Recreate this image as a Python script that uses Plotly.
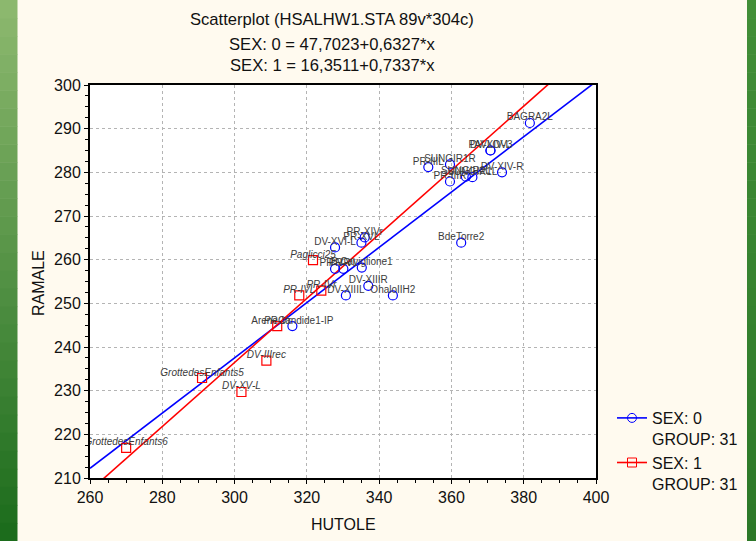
import plotly.graph_objects as go

# ---------------- data ----------------
sex0_labels = ["BAGRA2L", "PAVLOV3", "DV-XIV-L", "DV-XIV-R", "SUNGIR1R", "PR-IIIL",
               "PR-IIIR", "SUNGIR2L", "SUNGIR1L", "BdeTorre2", "DV-XVI-L", "PR-XVL",
               "PR-XIVr", "PR-VR", "PR-VL", "B.Caviglione1", "DV-XIIIR", "DV-XIIIL",
               "OhaloIIH2", "AreneCandide1-IP"]
sex0_hutole = [381.7, 370.8, 370.8, 374.0, 359.6, 353.6,
               359.6, 364.0, 365.8, 362.7, 327.8, 335.1,
               336.0, 327.8, 330.1, 335.2, 337.0, 330.8,
               343.8, 316.0]
sex0_ramale = [291.3, 285.0, 285.0, 280.0, 281.8, 281.2,
               277.9, 279.0, 278.9, 263.9, 262.8, 263.9,
               265.1, 257.9, 257.9, 258.2, 254.0, 251.8,
               251.8, 244.8]

sex1_labels = ["Paglicci25", "PR-IVr", "PR-IVL", "PR-Vr", "DV-IIIrec",
               "GrottedesEnfants5", "DV-XV-L", "GrottedesEnfants6"]
sex1_hutole = [321.7, 324.0, 317.9, 311.8, 308.8, 291.0, 301.9, 270.0]
sex1_ramale = [259.9, 252.9, 251.8, 244.8, 236.9, 232.9, 229.7, 216.9]

# regression coefficients (intercept, slope) from the title
fit0 = (47.7023, 0.6327)
fit1 = (16.3511, 0.7337)
fit_x = [260, 400]

x_ticks = [260, 280, 300, 320, 340, 360, 380, 400]
y_ticks = [210, 220, 230, 240, 250, 260, 270, 280, 290, 300]

title_lines = ["Scatterplot (HSALHW1.STA 89v*304c)",
               "SEX: 0 = 47,7023+0,6327*x",
               "SEX: 1 = 16,3511+0,7337*x"]

# ---------------- layout geometry ----------------
W, H = 756, 541
L, R, T, B = 90, 596, 85, 478   # plot area in pixels


def px_x(p):
    return (p - L) / (R - L)


def px_y(p):
    return (B - p) / (B - T)


BLUE = "#0000ff"
RED = "#ff0000"
FONT = "Liberation Sans, Arial, sans-serif"
LABEL_FONT = dict(family=FONT, size=10, color="#3c3c3c")

fig = go.Figure()

# regression lines
fig.add_trace(go.Scatter(x=fit_x, y=[fit0[0] + fit0[1] * v for v in fit_x],
                         mode="lines", line=dict(color=BLUE, width=1.6),
                         showlegend=False, hoverinfo="skip"))
fig.add_trace(go.Scatter(x=fit_x, y=[fit1[0] + fit1[1] * v for v in fit_x],
                         mode="lines", line=dict(color=RED, width=1.6),
                         showlegend=False, hoverinfo="skip"))

# point markers
fig.add_trace(go.Scatter(x=sex0_hutole, y=sex0_ramale, mode="markers", text=sex0_labels,
                         marker=dict(symbol="circle-open", size=9, color=BLUE,
                                     line=dict(width=1.2, color=BLUE)),
                         showlegend=False))
fig.add_trace(go.Scatter(x=sex1_hutole, y=sex1_ramale, mode="markers", text=sex1_labels,
                         marker=dict(symbol="square-open", size=9, color=RED,
                                     line=dict(width=1.2, color=RED)),
                         showlegend=False))

# point labels (text-only traces, small marker size to keep labels close)
fig.add_trace(go.Scatter(x=sex0_hutole, y=sex0_ramale, mode="text",
                         text=sex0_labels, textposition="top center",
                         textfont=LABEL_FONT, marker=dict(size=2),
                         showlegend=False, hoverinfo="skip"))
fig.add_trace(go.Scatter(x=sex1_hutole, y=sex1_ramale, mode="text",
                         text=["<i>%s</i>" % s for s in sex1_labels],
                         textposition="top center",
                         textfont=LABEL_FONT, marker=dict(size=2),
                         showlegend=False, hoverinfo="skip"))

# legend-only entries
fig.add_trace(go.Scatter(x=[None], y=[None], mode="lines+markers",
                         name="SEX: 0<br>GROUP: 31",
                         line=dict(color=BLUE, width=1.6),
                         marker=dict(symbol="circle-open", size=9, color=BLUE)))
fig.add_trace(go.Scatter(x=[None], y=[None], mode="lines+markers",
                         name="SEX: 1<br>GROUP: 31",
                         line=dict(color=RED, width=1.6),
                         marker=dict(symbol="square-open", size=9, color=RED)))

# background bands (green sides)
shapes = []
left_top = (140, 184, 110)
left_bot = (28, 108, 28)
right_top = (66, 142, 56)
right_bot = (44, 120, 40)
n = 30
for i in range(n):
    t = i / (n - 1)
    y0 = H * i / n
    y1 = H * (i + 1) / n + 0.5
    cl = tuple(int(round(a + (b - a) * t)) for a, b in zip(left_top, left_bot))
    cr = tuple(int(round(a + (b - a) * t)) for a, b in zip(right_top, right_bot))
    shapes.append(dict(type="rect", xref="paper", yref="paper", layer="below",
                       x0=px_x(0), x1=px_x(17.5), y0=px_y(y1), y1=px_y(y0),
                       fillcolor="rgb(%d,%d,%d)" % cl, line=dict(width=0)))
    shapes.append(dict(type="rect", xref="paper", yref="paper", layer="below",
                       x0=px_x(747), x1=px_x(W + 1), y0=px_y(y1), y1=px_y(y0),
                       fillcolor="rgb(%d,%d,%d)" % cr, line=dict(width=0)))

annotations = []
for txt, yp in zip(title_lines, [20, 44, 66]):
    annotations.append(dict(text=txt, x=px_x(332), y=px_y(yp), xref="paper", yref="paper",
                            xanchor="center", yanchor="middle", showarrow=False,
                            font=dict(family=FONT, size=16.6, color="#111111")))
annotations.append(dict(text="HUTOLE", x=px_x(343), y=px_y(524), xref="paper", yref="paper",
                        xanchor="center", yanchor="middle", showarrow=False,
                        font=dict(family=FONT, size=16, color="#111111")))
annotations.append(dict(text="RAMALE", x=px_x(38), y=px_y(283), xref="paper", yref="paper",
                        xanchor="center", yanchor="middle", showarrow=False, textangle=-90,
                        font=dict(family=FONT, size=16, color="#111111")))

axis_common = dict(showline=True, linecolor="black", linewidth=2, mirror=True,
                   ticks="outside", ticklen=4, tickcolor="black", tickwidth=1,
                   showgrid=True, gridcolor="#b4b4b4", griddash="dot", gridwidth=1,
                   zeroline=False, tickfont=dict(family=FONT, size=16, color="#111111"))

fig.update_layout(
    width=W, height=H,
    margin=dict(l=L, r=W - R, t=T, b=H - B, pad=0),
    paper_bgcolor="#fffaef", plot_bgcolor="white",
    xaxis=dict(range=[260, 400], tickvals=x_ticks, **axis_common,
               minor=dict(dtick=5, ticks="outside", ticklen=3, tickcolor="black", showgrid=False)),
    yaxis=dict(range=[210, 300], tickvals=y_ticks, **axis_common,
               minor=dict(dtick=2.5, ticks="outside", ticklen=3, tickcolor="black", showgrid=False)),
    legend=dict(x=px_x(612), y=px_y(401), xanchor="left", yanchor="top",
                bgcolor="rgba(0,0,0,0)", font=dict(family=FONT, size=16, color="#111111"),
                valign="top", tracegroupgap=0, itemwidth=30),
    shapes=shapes, annotations=annotations,
)

fig.write_html("out.html")
